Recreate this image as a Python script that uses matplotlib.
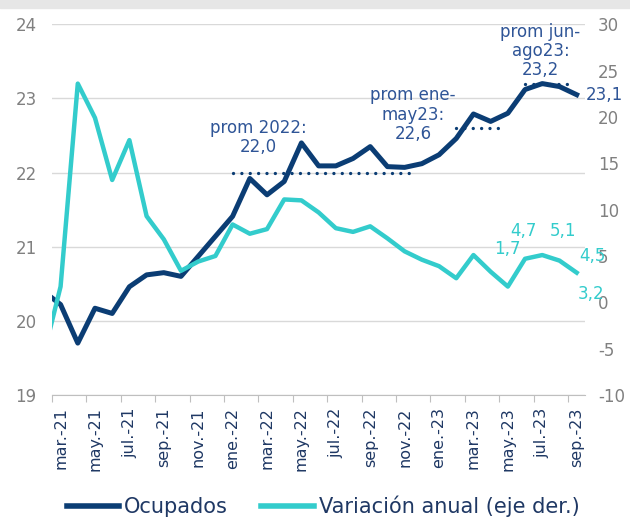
import matplotlib.pyplot as plt
from matplotlib.patches import Rectangle
from matplotlib.lines import Line2D

plt.rcParams['font.family'] = ['DejaVu Sans']
plt.rcParams['axes.unicode_minus'] = False

# meses (feb.-21 queda fuera del eje, recortado)
meses = ['feb.-21', 'mar.-21', 'abr.-21', 'may.-21', 'jun.-21', 'jul.-21', 'ago.-21', 'sep.-21',
         'oct.-21', 'nov.-21', 'dic.-21', 'ene.-22', 'feb.-22', 'mar.-22', 'abr.-22', 'may.-22',
         'jun.-22', 'jul.-22', 'ago.-22', 'sep.-22', 'oct.-22', 'nov.-22', 'dic.-22', 'ene.-23',
         'feb.-23', 'mar.-23', 'abr.-23', 'may.-23', 'jun.-23', 'jul.-23', 'ago.-23', 'sep.-23']

# ocupados (millones)
ocupados = [20.40, 20.22, 19.70, 20.17, 20.10, 20.46, 20.62, 20.65, 20.60, 20.87, 21.14,
            21.41, 21.92, 21.70, 21.88, 22.40, 22.09, 22.09, 22.19, 22.35, 22.08, 22.07, 22.12,
            22.24, 22.46, 22.79, 22.69, 22.80, 23.12, 23.20, 23.16, 23.05]

# variacion anual (%), eje derecho
variacion = [-5.8, 1.7, 23.6, 19.9, 13.2, 17.5, 9.3, 6.8, 3.4, 4.4, 5.0,
             8.4, 7.4, 7.9, 11.1, 11.0, 9.7, 8.0, 7.6, 8.2, 6.9, 5.5, 4.6,
             3.9, 2.6, 5.1, 3.3, 1.7, 4.7, 5.1, 4.5, 3.2]

# promedios
prom_valores = [22.0, 22.6, 23.2]
prom_textos = ['prom 2022:\n22,0', 'prom ene-\nmay23:\n22,6', 'prom jun-\nago23:\n23,2']
prom_desde = [11, 24, 28]
prom_hasta = [21.6, 26.7, 30.8]

azul = '#0b3d74'
turquesa = '#33cccc'
azul_txt = '#2f5597'
gris = '#808080'

x = list(range(len(meses)))

fig = plt.figure(figsize=(6.3, 5.2), dpi=100)
fig.patches.append(Rectangle((0, 0.985), 1, 0.015, transform=fig.transFigure,
                             color='#e6e6e6', zorder=0))

ax = fig.add_axes([0.0825, 0.2404, 0.8465, 0.7129])
ax.set_xlim(0.5, 31.5)
ax.set_ylim(19, 24)
ax.set_yticks(range(19, 25))
ax.grid(axis='y', color='#d9d9d9', lw=1)
ax.set_axisbelow(True)
for s in ['top', 'left', 'right']:
    ax.spines[s].set_visible(False)
ax.spines['bottom'].set_color('#bfbfbf')
ax.tick_params(axis='y', length=0, pad=11, labelsize=12, labelcolor=gris)

# ticks entre categorias, etiquetas cada dos meses
ax.set_xticks([i + 0.5 for i in range(0, 31, 2)])
ax.set_xticklabels([])
ax.set_xticks(x[1::2], minor=True)
ax.set_xticklabels(meses[1::2], minor=True, rotation=90)
ax.tick_params(axis='x', which='major', length=5, color='#bfbfbf')
ax.tick_params(axis='x', which='minor', length=0, pad=9, labelsize=11.5, labelcolor='#1f3864')

ax.plot(x, ocupados, color=azul, lw=3.6, solid_joinstyle='round', zorder=3)

for v, a, b in zip(prom_valores, prom_desde, prom_hasta):
    ax.plot([a, b], [v, v], color=azul, lw=2.4, linestyle=(0, (0.01, 2.5)),
            dash_capstyle='round', zorder=2)

ax.text(12.5, 22.47, prom_textos[0], ha='center', va='center', fontsize=12,
        color=azul_txt, linespacing=1.1)
ax.text(21.5, 22.78, prom_textos[1], ha='center', va='center', fontsize=12,
        color=azul_txt, linespacing=1.1)
ax.text(28.9, 23.64, prom_textos[2], ha='center', va='center', fontsize=12,
        color=azul_txt, linespacing=1.1)
ax.text(31.55, ocupados[-1], '23,1', ha='left', va='center', fontsize=12,
        color=azul_txt, clip_on=False)

ax2 = ax.twinx()
ax2.set_ylim(-10, 30)
ax2.set_yticks(range(-10, 31, 5))
for s in ['top', 'left', 'right', 'bottom']:
    ax2.spines[s].set_visible(False)
ax2.tick_params(axis='y', length=0, pad=9, labelsize=12, labelcolor=gris)
ax2.plot(x, variacion, color=turquesa, lw=3.2, solid_joinstyle='round', zorder=3)

etiquetas = {27: (26.95, 5.7), 28: (27.9, 7.65), 29: (30.2, 7.65), 30: (31.9, 5.0), 31: (31.85, 0.85)}
for i, (px, py) in etiquetas.items():
    ax2.text(px, py, f'{variacion[i]:.1f}'.replace('.', ','), ha='center', va='center',
             fontsize=12, color=turquesa, clip_on=False)

handles = [Line2D([], [], color=azul, lw=4), Line2D([], [], color=turquesa, lw=4)]
fig.legend(handles, ['Ocupados', 'Variación anual (eje der.)'], loc='lower center',
           bbox_to_anchor=(0.513, -0.03), ncol=2, frameon=False, fontsize=15,
           handlelength=2.5, handletextpad=0.25, columnspacing=1.6, labelcolor='#1f3864')

fig.savefig('out.png', dpi=100)
